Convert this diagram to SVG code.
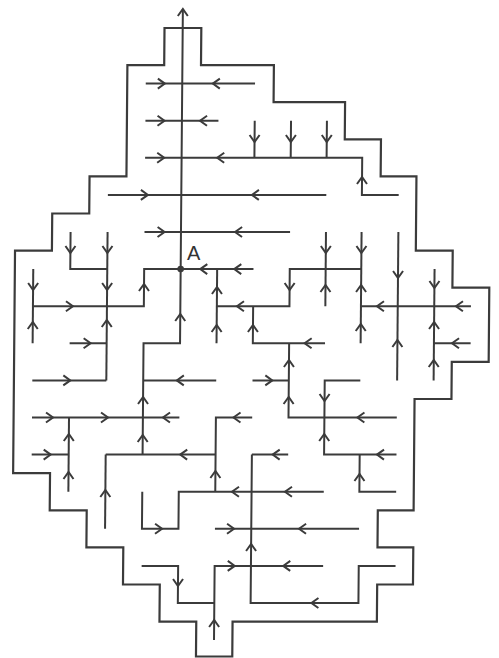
<svg xmlns="http://www.w3.org/2000/svg" width="499" height="658" viewBox="0 0 499 658">
<style>
.ln{fill:none;stroke:#3b3b3b;stroke-width:2;stroke-linejoin:miter;stroke-linecap:butt}
.bd{fill:none;stroke:#3b3b3b;stroke-width:2.2}
.lbl{font-family:"Liberation Sans",Arial,sans-serif;font-size:20px;fill:#333}
</style>
<defs>
<path id="r" d="M-7,-5 L0,0 L-7,5"/>
<path id="l" d="M7,-5 L0,0 L7,5"/>
<path id="u" d="M-5,7 L0,0 L5,7"/>
<path id="d" d="M-5,-7 L0,0 L5,-7"/>
</defs>
<rect width="499" height="658" fill="#fff"/>
<g transform="matrix(1 0 -0.0085 1 2.55 0)">
<g id="boundary">
<path class="bd" d="M162.2,28 H199 V65.1 H271.9 V102.2 H343.4 V139.3 H379.6 V176.4 H415.4 V250.6 H452.3 V287.7 H489.2 V361.9 H452.3 V399 H415.4 V510.3 H379.6 V547.4 H415.4 V584.5 H379.6 V621.6 H235.3 V656.5 H199 V621.6 H162.2 V584.5 H125.4 V547.4 H88.5 V510.3 H51.5 V473.2 H14.6 V250.6 H51.5 V213.5 H88.5 V176.4 H125.4 V65.1 H162.2 Z"/>
</g>
<g id="connectors" class="ln">
<path d="M180.4,9 V343.3 H143.9 V454.6"/>
<path d="M143.9,83.6 H253.2"/>
<path d="M143.9,120.7 H216.9"/>
<path d="M143.9,157.8 H361 V194.9 H397.8"/>
<path d="M253.2,120.7 V157.8 M289.5,120.7 V157.8 M325.4,120.7 V157.8"/>
<path d="M107,194.9 H325.4"/>
<path d="M143.9,232 H289.5"/>
<path d="M70,232 V269.1 H107"/>
<path d="M107,232 V380.4"/>
<path d="M33,269.1 V343.3"/>
<path d="M33,306.2 H143.9 V269.1 H253.2"/>
<path d="M70,343.3 H107"/>
<path d="M33,380.4 H107"/>
<path d="M216.9,269.1 V343.3"/>
<path d="M216.9,306.2 H289.5 V269.1 H361"/>
<path d="M253.2,306.2 V343.3 H325.4"/>
<path d="M325.4,232 V306.2"/>
<path d="M361,232 V343.3"/>
<path d="M397.8,232 V380.4"/>
<path d="M434.3,269.1 V380.4"/>
<path d="M361,306.2 H471"/>
<path d="M434.3,343.3 H471"/>
<path d="M289.5,343.3 V417.5 H397.8"/>
<path d="M253.2,380.4 H289.5"/>
<path d="M361,380.4 H325.4 V454.6 H397.8"/>
<path d="M361,454.6 V491.7 H397.8"/>
<path d="M143.9,380.4 H216.9"/>
<path d="M33,417.5 H180.4"/>
<path d="M70,417.5 V491.7"/>
<path d="M33,454.6 H70"/>
<path d="M107,454.6 H216.9"/>
<path d="M253.2,417.5 H216.9 V491.7"/>
<path d="M107,454.6 V528.8"/>
<path d="M143.9,491.7 V528.8 H180.4 V491.7 H325.4"/>
<path d="M253.2,454.6 V603 H361 V565.9 H397.8"/>
<path d="M253.2,454.6 H289.5"/>
<path d="M216.9,528.8 H361"/>
<path d="M143.9,565.9 H180.4 V603 H216.9"/>
<path d="M216.9,640.1 V565.9 H325.4"/>
</g>
<g id="arrows" class="ln">
<use href="#u" x="180.4" y="9"/>
<use href="#r" x="163" y="83.6"/><use href="#l" x="211" y="83.6"/>
<use href="#r" x="163" y="120.7"/><use href="#l" x="198.5" y="120.7"/>
<use href="#r" x="163" y="157.8"/><use href="#l" x="216" y="157.8"/>
<use href="#u" x="361" y="177"/>
<use href="#d" x="253.2" y="142"/><use href="#d" x="289.5" y="142"/><use href="#d" x="325.4" y="142"/>
<use href="#r" x="147" y="194.9"/><use href="#l" x="251" y="194.9"/>
<use href="#r" x="164" y="232"/><use href="#l" x="234.5" y="232"/>
<use href="#d" x="70" y="253"/>
<use href="#d" x="107" y="253"/><use href="#d" x="107" y="290"/><use href="#u" x="107" y="320"/>
<use href="#d" x="33" y="290"/><use href="#u" x="33" y="322"/>
<use href="#r" x="73" y="306.2"/><use href="#u" x="143.9" y="284"/>
<use href="#l" x="200" y="269.1"/><use href="#l" x="234" y="269.1"/>
<use href="#r" x="91" y="343.3"/>
<use href="#r" x="71" y="380.4"/>
<use href="#u" x="180.4" y="314"/>
<use href="#u" x="216.9" y="287"/><use href="#u" x="216.9" y="325"/>
<use href="#l" x="237" y="306.2"/>
<use href="#d" x="289.5" y="290"/>
<use href="#u" x="253.2" y="325"/>
<use href="#l" x="305" y="343.3"/>
<use href="#d" x="325.4" y="253"/><use href="#u" x="325.4" y="285"/>
<use href="#d" x="361" y="253"/><use href="#u" x="361" y="285"/><use href="#u" x="361" y="324"/>
<use href="#d" x="397.8" y="278"/><use href="#u" x="397.8" y="340"/>
<use href="#d" x="434.3" y="288"/><use href="#u" x="434.3" y="322"/><use href="#u" x="434.3" y="360"/>
<use href="#l" x="377" y="306.2"/><use href="#l" x="456" y="306.2"/>
<use href="#l" x="452.4" y="343.3"/>
<use href="#u" x="289.5" y="360"/><use href="#u" x="289.5" y="397"/>
<use href="#l" x="358.4" y="417.5"/>
<use href="#r" x="273" y="380.4"/>
<use href="#d" x="325.4" y="401"/><use href="#u" x="325.4" y="434"/>
<use href="#l" x="378.3" y="454.6"/>
<use href="#u" x="361" y="474"/>
<use href="#l" x="177.5" y="380.4"/>
<use href="#r" x="54" y="417.5"/><use href="#r" x="109" y="417.5"/><use href="#l" x="164" y="417.5"/>
<use href="#u" x="143.9" y="397"/><use href="#u" x="143.9" y="435"/>
<use href="#u" x="70" y="434"/><use href="#u" x="70" y="472"/>
<use href="#r" x="52" y="454.6"/>
<use href="#l" x="181.5" y="454.6"/>
<use href="#l" x="234.5" y="417.5"/>
<use href="#u" x="216.9" y="471"/>
<use href="#u" x="107" y="490"/>
<use href="#r" x="164" y="528.8"/>
<use href="#l" x="233.6" y="491.7"/><use href="#l" x="286.6" y="491.7"/>
<use href="#u" x="253.2" y="544"/>
<use href="#l" x="314" y="603"/>
<use href="#l" x="274" y="454.6"/>
<use href="#r" x="236" y="528.8"/><use href="#l" x="301" y="528.8"/>
<use href="#d" x="180.4" y="586"/>
<use href="#u" x="216.9" y="620"/>
<use href="#r" x="237" y="565.9"/><use href="#l" x="285.5" y="565.9"/>
</g>
<g id="node-A">
<circle cx="180.4" cy="269.1" r="3.3" fill="#3b3b3b"/>
</g>
</g>
<text class="lbl" x="187" y="260">A</text>
</svg>
